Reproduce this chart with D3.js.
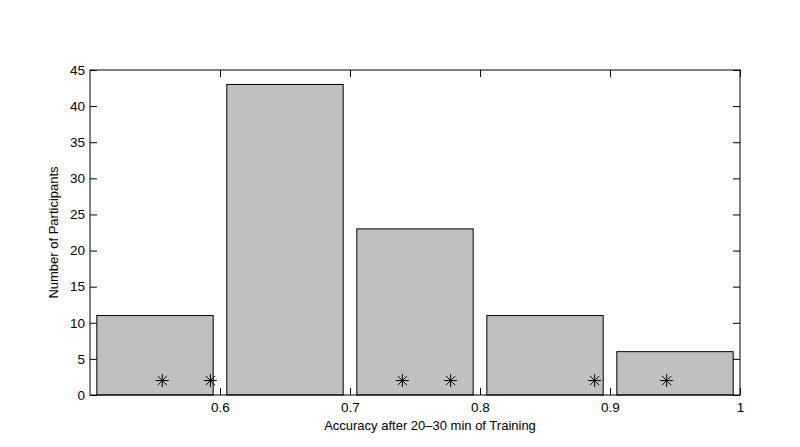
<!DOCTYPE html>
<html><head><meta charset="utf-8">
<script src="https://cdn.jsdelivr.net/npm/d3@7"></script>
<style>body{margin:0;background:#fff;} text{font-family:"Liberation Sans",Arial,Helvetica,sans-serif;}</style>
</head><body>
<svg id="c" width="800" height="447"></svg>
<script>
const binCenters = [0.55, 0.65, 0.75, 0.85, 0.95];
const counts = [11, 43, 23, 11, 6];
const starX = [0.5556, 0.5926, 0.7403, 0.7774, 0.8882, 0.9436];
const starY = [2, 2, 2, 2, 2, 2];
const xTicks = [0.6, 0.7, 0.8, 0.9, 1];
const yTicks = [0, 5, 10, 15, 20, 25, 30, 35, 40, 45];
const barWidth = 0.0895;

const svg = d3.select("#c");
const L = 90, R = 740, T = 70, B = 395;
const x = d3.scaleLinear().domain([0.5, 1]).range([L, R]);
const y = d3.scaleLinear().domain([0, 45]).range([B, T]);

// bars
svg.append("g").selectAll("rect").data(binCenters).join("rect")
  .attr("x", (d) => x(d - barWidth / 2))
  .attr("width", x(barWidth) - x(0))
  .attr("y", (d, i) => y(counts[i]))
  .attr("height", (d, i) => y(0) - y(counts[i]))
  .attr("fill", "#c0c0c0").attr("stroke", "#000").attr("stroke-width", 1);

// axes
const tickLen = 7;
const fmtX = (d) => d === 1 ? "1" : d3.format(".1f")(d);
const gb = svg.append("g").attr("transform", `translate(0,${B})`)
  .call(d3.axisBottom(x).tickValues(xTicks).tickSizeInner(-tickLen).tickSizeOuter(0).tickPadding(7).tickFormat(fmtX));
const gt = svg.append("g").attr("transform", `translate(0,${T})`)
  .call(d3.axisTop(x).tickValues(xTicks).tickSizeInner(-tickLen).tickSizeOuter(0).tickFormat(""));
const gl = svg.append("g").attr("transform", `translate(${L},0)`)
  .call(d3.axisLeft(y).tickValues(yTicks).tickSizeInner(-tickLen).tickSizeOuter(0).tickPadding(5));
const gr = svg.append("g").attr("transform", `translate(${R},0)`)
  .call(d3.axisRight(y).tickValues(yTicks).tickSizeInner(-tickLen).tickSizeOuter(0).tickFormat(""));
[gb, gt, gl, gr].forEach(g => {
  g.select(".domain").remove();
  g.selectAll("line").attr("stroke", "#000");
  g.selectAll("text").attr("fill", "#000").style("font-size", "13.5px");
});
svg.append("rect").attr("x", L).attr("y", T).attr("width", R - L).attr("height", B - T)
  .attr("fill", "none").attr("stroke", "#000").attr("stroke-width", 1);

// star markers
const s = 6.5;
const star = svg.append("g").selectAll("g").data(starX).join("g")
  .attr("transform", (d, i) => `translate(${x(d)},${y(starY[i])})`);
[[-s, 0, s, 0], [0, -s, 0, s], [-s * 0.7, -s * 0.7, s * 0.7, s * 0.7], [-s * 0.7, s * 0.7, s * 0.7, -s * 0.7]].forEach(l => {
  star.append("line").attr("x1", l[0]).attr("y1", l[1]).attr("x2", l[2]).attr("y2", l[3])
    .attr("stroke", "#000").attr("stroke-width", 1);
});

// labels
svg.append("text").attr("x", 430).attr("y", 429.5).attr("text-anchor", "middle")
  .style("font-size", "13px").text("Accuracy after 20–30 min of Training");
svg.append("text").attr("transform", `translate(58,${(T + B) / 2}) rotate(-90)`).attr("text-anchor", "middle")
  .style("font-size", "13px").text("Number of Participants");
</script>
</body></html>
